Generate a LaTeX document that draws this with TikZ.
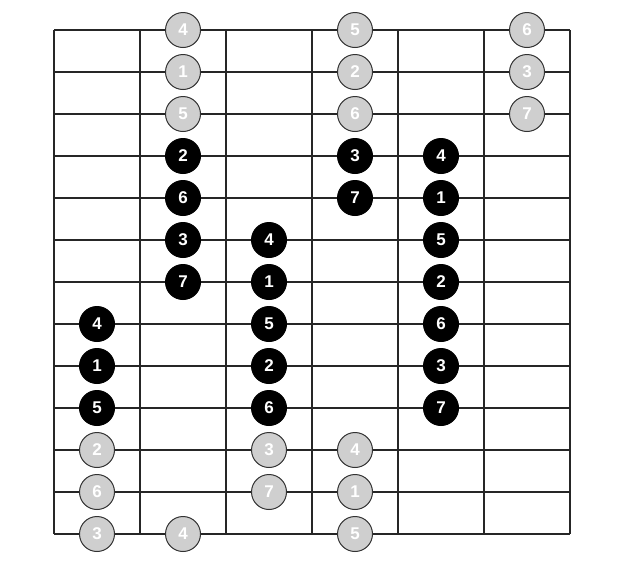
\documentclass[tikz,border=0pt]{standalone}
\usepackage{fontspec}
\setmainfont{Liberation Sans}
\usetikzlibrary{positioning}

\begin{document}
\begin{tikzpicture}[x=1pt,y=-1pt,
    fret/.style={line width=1.5pt, black!85},
    outer/.style={circle, draw=black!80, line width=1pt, fill=black!19,
        minimum size=35pt, inner sep=0pt, text=white, font=\bfseries\fontsize{17}{17}\selectfont},
    inner/.style={outer, draw=black, fill=black}]
    \useasboundingbox (0,0) rectangle (624,566);

    % Grid
    \foreach \i in {0,...,12}
        \draw[fret] (54,30+42*\i) -- (570,30+42*\i);
    \foreach \j in {0,...,6}
        \draw[fret] (54+86*\j,30) -- (54+86*\j,534);

    % Grey notes (row/column/degree)
    \foreach \i/\k/\t in {0/1/4, 0/3/5, 0/5/6,
                          1/1/1, 1/3/2, 1/5/3,
                          2/1/5, 2/3/6, 2/5/7,
                          10/0/2, 10/2/3, 10/3/4,
                          11/0/6, 11/2/7, 11/3/1,
                          12/0/3, 12/1/4, 12/3/5}
        \node[outer] (g-\i-\k) at (97+86*\k,30+42*\i) {\t};

    % Black notes
    \foreach \i/\k/\t in {3/1/2, 3/3/3, 3/4/4,
                          4/1/6, 4/3/7, 4/4/1,
                          5/1/3, 5/2/4, 5/4/5,
                          6/1/7, 6/2/1, 6/4/2,
                          7/0/4, 7/2/5, 7/4/6,
                          8/0/1, 8/2/2, 8/4/3,
                          9/0/5, 9/2/6, 9/4/7}
        \node[inner] (b-\i-\k) at (97+86*\k,30+42*\i) {\t};
\end{tikzpicture}
\end{document}
